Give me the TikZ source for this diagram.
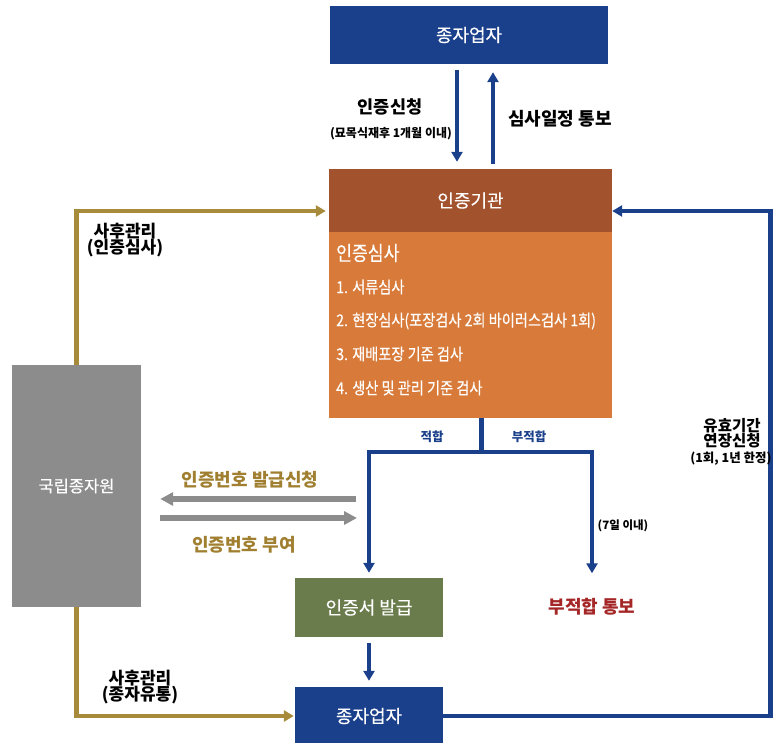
\documentclass[tikz,border=0pt]{standalone}
\usepackage{fontspec}
\setmainfont{Noto Sans CJK KR}
\newfontfamily\cond{Noto Sans CJK KR}[FakeStretch=0.86,FakeBold=0.3]
\newfontfamily\boxfont{Noto Sans CJK KR}[FakeBold=0.3]
\usetikzlibrary{arrows.meta}
\definecolor{cblue}{RGB}{27,64,139}
\definecolor{cbrown}{RGB}{163,82,46}
\definecolor{corange}{RGB}{216,123,58}
\definecolor{cgray}{RGB}{140,140,140}
\definecolor{cgreen}{RGB}{106,124,75}
\definecolor{cgold}{RGB}{168,139,58}
\definecolor{cgoldtxt}{RGB}{160,128,48}
\definecolor{cred}{RGB}{165,38,38}
\tikzset{
  boxnode/.style={rectangle, inner sep=0pt, text=white, font=\boxfont\fontsize{18}{21}\selectfont},
  barrow/.style={draw=cblue, line width=4.5pt, -{Triangle[width=11pt,length=10pt]}},
  bline/.style={draw=cblue, line width=4.5pt},
  garrow/.style={draw=cgold, line width=4.5pt, -{Triangle[width=11pt,length=10pt]}},
  grarrow/.style={draw=cgray, line width=6pt, -{Triangle[width=13pt,length=13pt]}},
  lbl/.style={inner sep=0pt, align=center, font=\bfseries\fontsize{18}{21}\selectfont},
  item/.style={inner sep=0pt, anchor=west, text=white, font=\cond\fontsize{16.5}{19}\selectfont},
}
\begin{document}
\begin{tikzpicture}[x=1pt,y=-1pt]
\useasboundingbox (0,0) rectangle (773,743);
% boxes
\node[boxnode, fill=cblue, minimum width=278pt, minimum height=58pt] (top) at (469,35) {종자업자};
\node[boxnode, fill=corange, minimum width=283pt, minimum height=186pt] (body) at (470.5,325) {};
\node[boxnode, fill=cbrown, minimum width=283pt, minimum height=63pt] (hdr) at (470.5,200.5) {인증기관};
\node[boxnode, fill=cgray, minimum width=129pt, minimum height=242pt, font=\boxfont\fontsize{16.5}{20}\selectfont] (nat) at (76.5,486) {국립종자원};
\node[boxnode, fill=cgreen, minimum width=148pt, minimum height=59pt] (cert) at (369,607.5) {인증서 발급};
\node[boxnode, fill=cblue, minimum width=148pt, minimum height=58pt] (seed2) at (369,716) {종자업자};
\node[lbl, text=cred] (fail) at (592,607) {부적합 통보};
% body texts
\node[item, font=\cond\fontsize{20}{23}\selectfont] (h1) at (336,253) {인증심사};
\node[item] (i1) at (336,287) {1. 서류심사};
\node[item] (i2) at (336,321) {2. 현장심사(포장검사 2회 바이러스검사 1회)};
\node[item] (i3) at (336,354) {3. 재배포장 기준 검사};
\node[item] (i4) at (336,388) {4. 생산 및 관리 기준 검사};
% top arrows
\draw[barrow, shorten <=6pt, shorten >=7pt] ([xshift=-12pt]top.south) -- ([xshift=-12pt]top.south |- hdr.north);
\draw[barrow, shorten <=5pt, shorten >=8pt] ([xshift=24pt]top.south |- hdr.north) -- ([xshift=24pt]top.south);
\node[lbl, font=\bfseries\fontsize{17.5}{20}\selectfont] (l1) at (390,107) {인증신청};
\node[lbl, font=\bfseries\fontsize{12}{14}\selectfont] (l2) at (391,134) {(묘목식재후 1개월 이내)};
\node[lbl] (l3) at (560,119) {심사일정 통보};
% decision branches
\draw[bline] ([xshift=11pt]body.south) -- ++(0,34) coordinate (j);
\draw[barrow, shorten >=5pt] (j) -| (cert.north);
\draw[barrow, shorten >=25pt] (j) -| (fail.north);
\draw[bline] ([xshift=-2pt]j -| cert.north) -- ([xshift=2pt]j -| fail.north);
\node[lbl, text=cblue, font=\bfseries\fontsize{12.5}{14}\selectfont] (ok) at (432,437) {적합};
\node[lbl, text=cblue, font=\bfseries\fontsize{12.5}{14}\selectfont] (nok) at (529,437) {부적합};
\node[lbl, font=\bfseries\fontsize{11.5}{14}\selectfont] (l7) at (623,526) {(7일 이내)};
% cert to seed
\draw[barrow, shorten <=6pt, shorten >=6pt] (cert.south) -- (seed2.north);
% right loop
\coordinate (rc) at (770.5,211);
\draw[barrow] (seed2.east) -| (rc) -- ([yshift=-10.5pt]hdr.east);
\node[lbl, font=\bfseries\fontsize{15.5}{12.5}\selectfont] (l8) at (732,433) {유효기간\\연장신청};
\node[lbl, font=\bfseries\fontsize{12.5}{14}\selectfont] (l9) at (731,459) {(1회, 1년 한정)};
% gold lines
\draw[garrow, shorten >=3pt] (nat.north) |- ([yshift=-10.5pt]hdr.west);
\draw[garrow, shorten >=1pt] (nat.south) |- (seed2.west);
\node[lbl, font=\bfseries\fontsize{17}{16}\selectfont] (l10) at (125,240) {사후관리\\(인증심사)};
\node[lbl, font=\bfseries\fontsize{17}{16}\selectfont] (l11) at (140,687) {사후관리\\(종자유통)};
% gray arrows
\coordinate (g1) at (356,499);
\coordinate (g2) at (356,518);
\draw[grarrow, shorten >=19pt] (g1) -- (nat.east |- g1);
\draw[grarrow, shorten <=19pt, shorten >=-1pt] (nat.east |- g2) -- (g2);
\node[lbl, text=cgoldtxt] (l12) at (250,480) {인증번호 발급신청};
\node[lbl, text=cgoldtxt] (l13) at (244,545) {인증번호 부여};
\end{tikzpicture}
\end{document}
